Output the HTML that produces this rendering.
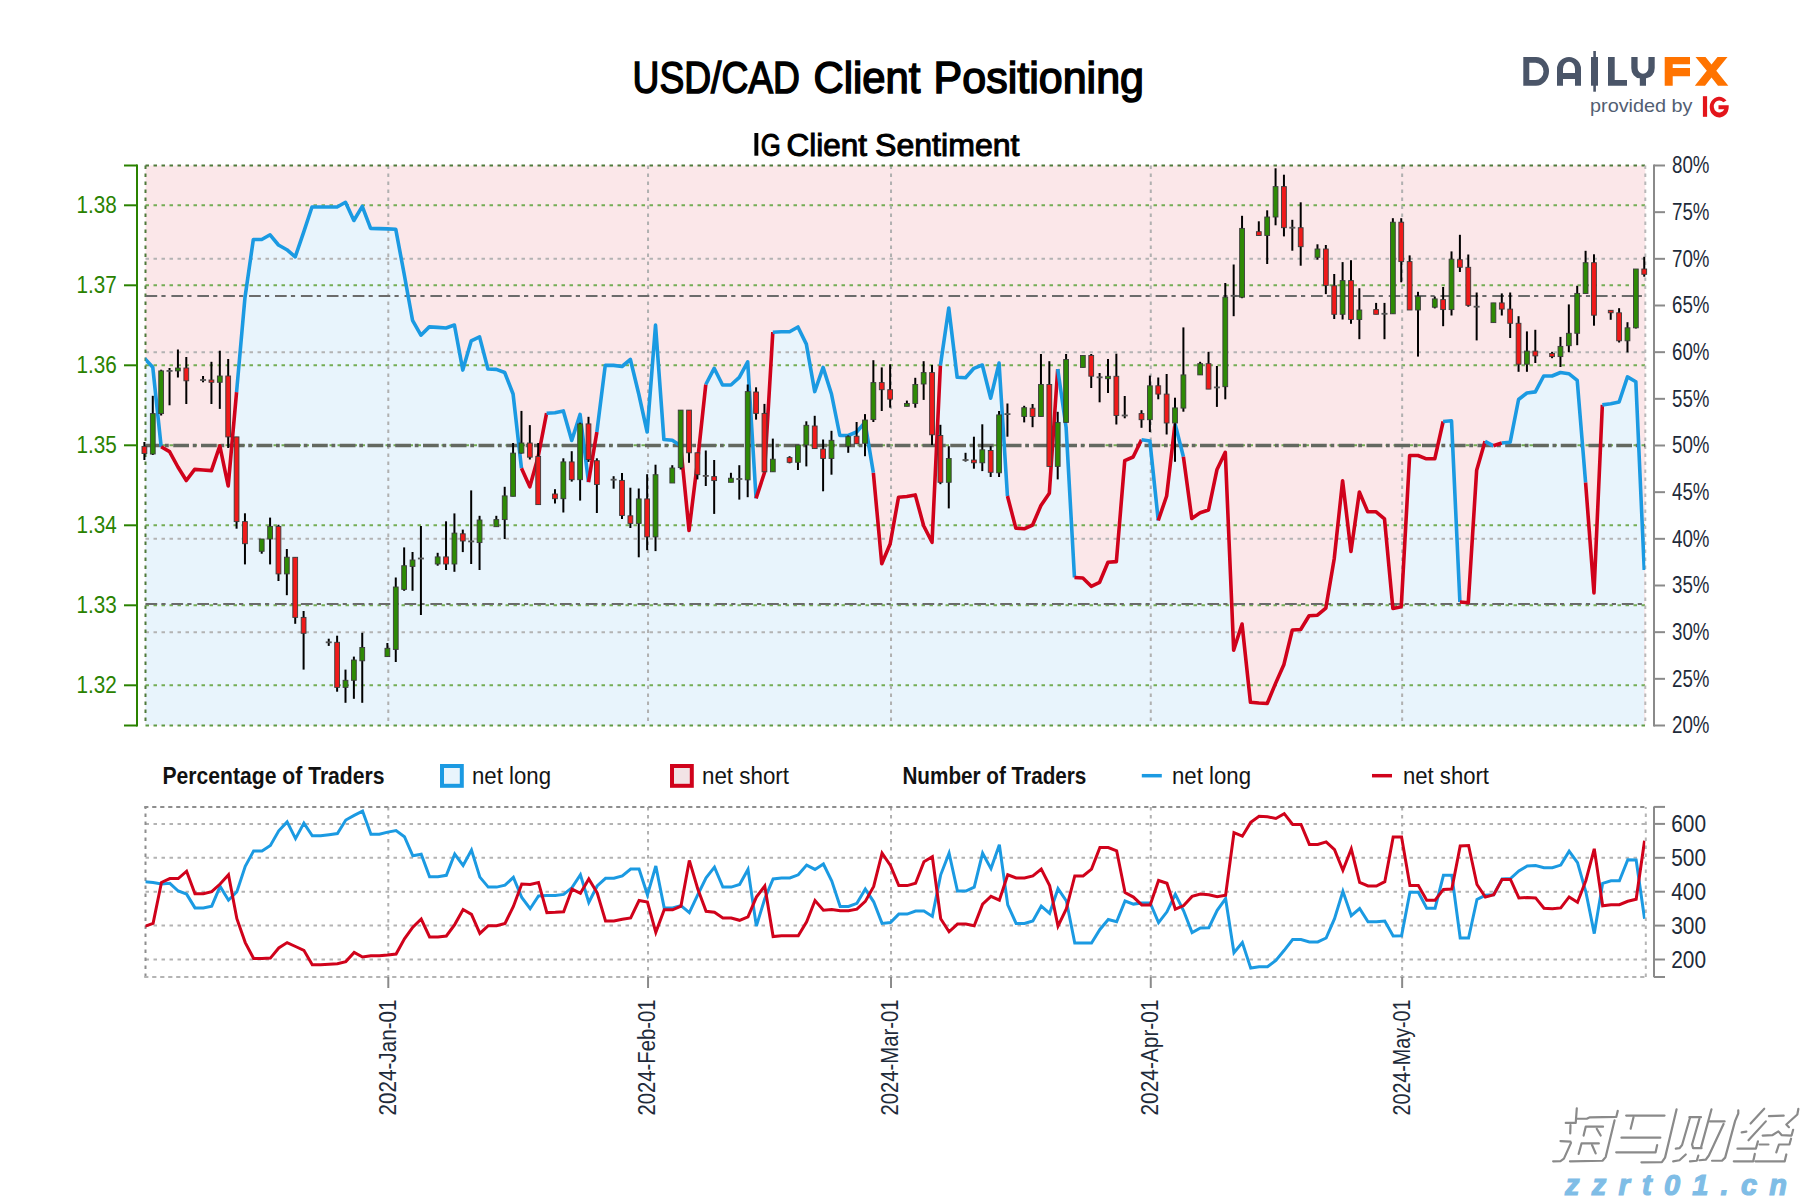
<!DOCTYPE html><html><head><meta charset="utf-8"><style>html,body{margin:0;padding:0;background:#fff;}svg{display:block;}</style></head><body>
<svg width="1800" height="1200" viewBox="0 0 1800 1200" font-family="Liberation Sans, sans-serif">
<rect width="1800" height="1200" fill="#ffffff"/>
<defs><clipPath id="pc"><rect x="145.5" y="165.5" width="1499.8" height="560.0"/></clipPath><clipPath id="bc"><rect x="145.5" y="806.9" width="1499.8" height="170.10000000000002"/></clipPath></defs>
<text x="632.5" y="93" font-size="44" fill="#000" stroke="#000" stroke-width="1.5" textLength="167.5" lengthAdjust="spacingAndGlyphs">USD/CAD</text>
<text x="813.5" y="93" font-size="44" fill="#000" stroke="#000" stroke-width="1.5" textLength="107.0" lengthAdjust="spacingAndGlyphs">Client</text>
<text x="933.5" y="93" font-size="44" fill="#000" stroke="#000" stroke-width="1.5" textLength="210.5" lengthAdjust="spacingAndGlyphs">Positioning</text>
<rect x="754.4" y="133" width="3.9" height="22.7" fill="#000"/>
<text x="760.8" y="155.6" font-size="32" fill="#000" stroke="#000" stroke-width="1.0" textLength="20.0" lengthAdjust="spacingAndGlyphs">G</text>
<text x="786.5" y="155.6" font-size="32" fill="#000" stroke="#000" stroke-width="1.0" textLength="80.5" lengthAdjust="spacingAndGlyphs">Client</text>
<text x="875" y="155.6" font-size="32" fill="#000" stroke="#000" stroke-width="1.0" textLength="144.5" lengthAdjust="spacingAndGlyphs">Sentiment</text>
<rect x="145.5" y="165.5" width="1499.8" height="560.0" fill="#fbe7e9"/>
<g clip-path="url(#pc)"><polygon points="144.40,725.5 144.40,358.30 152.78,367.30 161.16,446.80 169.54,451.60 177.92,467.00 186.30,480.50 194.67,469.40 203.05,470.00 211.43,470.60 219.81,445.80 228.19,486.00 236.57,392.20 244.95,297.70 253.33,239.50 261.71,239.50 270.08,234.80 278.46,245.00 286.84,249.70 295.22,256.90 303.60,232.40 311.98,207.00 320.36,207.00 328.74,207.00 337.12,207.00 345.50,202.30 353.88,220.50 362.25,206.30 370.63,228.40 379.01,228.60 387.39,228.90 395.77,229.30 404.15,274.00 412.53,320.30 420.91,335.20 429.29,326.90 437.66,327.40 446.04,328.00 454.42,325.00 462.80,370.10 471.18,340.90 479.56,336.90 487.94,369.00 496.32,369.40 504.70,372.50 513.08,394.00 521.46,468.30 529.83,486.80 538.21,456.50 546.59,413.20 554.97,412.80 563.35,410.90 571.73,440.50 580.11,414.40 588.49,482.10 596.87,432.00 605.25,365.40 613.62,365.40 622.00,366.50 630.38,359.50 638.76,394.00 647.14,432.00 655.52,325.10 663.90,439.50 672.28,440.30 680.66,445.80 689.03,530.50 697.41,462.80 705.79,384.50 714.17,368.30 722.55,385.00 730.93,385.00 739.31,377.30 747.69,361.90 756.07,498.40 764.45,472.80 772.82,332.20 781.20,331.80 789.58,331.80 797.96,327.00 806.34,344.10 814.72,391.60 823.10,367.40 831.48,394.00 839.86,435.50 848.24,435.50 856.61,432.00 864.99,422.40 873.37,472.80 881.75,563.70 890.13,544.00 898.51,497.20 906.89,496.50 915.27,494.90 923.65,525.70 932.03,542.30 940.40,365.50 948.78,308.00 957.16,377.30 965.54,377.80 973.92,368.30 982.30,365.00 990.68,398.20 999.06,363.10 1007.44,496.00 1015.82,528.10 1024.19,528.80 1032.57,525.00 1040.95,505.50 1049.33,493.20 1057.71,369.00 1066.09,427.20 1074.47,577.50 1082.85,578.00 1091.23,586.30 1099.61,582.30 1107.98,562.20 1116.36,561.60 1124.74,460.60 1133.12,457.00 1141.50,439.70 1149.88,441.00 1158.26,520.50 1166.64,496.00 1175.02,423.80 1183.40,456.80 1191.78,518.50 1200.15,512.70 1208.53,510.00 1216.91,469.80 1225.29,452.30 1233.67,650.10 1242.05,624.00 1250.43,702.30 1258.81,703.00 1267.19,703.50 1275.57,683.40 1283.94,664.40 1292.32,630.00 1300.70,629.50 1309.08,615.70 1317.46,615.20 1325.84,608.10 1334.22,558.80 1342.60,480.80 1350.98,551.50 1359.36,492.00 1367.73,511.80 1376.11,511.80 1384.49,518.90 1392.87,608.40 1401.25,606.70 1409.63,455.50 1418.01,455.50 1426.39,458.80 1434.77,458.80 1443.14,421.50 1451.52,420.80 1459.90,602.00 1468.28,602.70 1476.66,470.20 1485.04,441.30 1493.42,445.80 1501.80,443.00 1510.18,442.20 1518.56,399.50 1526.93,393.00 1535.31,391.90 1543.69,376.00 1552.07,376.00 1560.45,372.50 1568.83,373.70 1577.21,380.30 1585.59,482.60 1593.97,592.90 1602.35,404.90 1610.72,403.80 1619.10,402.00 1627.48,376.90 1635.86,381.80 1644.24,570.00 1644.24,725.5 1645.3,725.5" fill="#e8f4fc"/></g>
<line x1="145.5" y1="258.83" x2="1645.3" y2="258.83" stroke="#b3b3b3" stroke-width="2" stroke-dasharray="3.5 4.5"/>
<line x1="145.5" y1="352.17" x2="1645.3" y2="352.17" stroke="#b3b3b3" stroke-width="2" stroke-dasharray="3.5 4.5"/>
<line x1="145.5" y1="538.83" x2="1645.3" y2="538.83" stroke="#b3b3b3" stroke-width="2" stroke-dasharray="3.5 4.5"/>
<line x1="145.5" y1="632.17" x2="1645.3" y2="632.17" stroke="#b3b3b3" stroke-width="2" stroke-dasharray="3.5 4.5"/>
<line x1="145.5" y1="205.30" x2="1645.3" y2="205.30" stroke="#74ad55" stroke-width="2" stroke-dasharray="3.5 4.5"/>
<line x1="145.5" y1="285.30" x2="1645.3" y2="285.30" stroke="#74ad55" stroke-width="2" stroke-dasharray="3.5 4.5"/>
<line x1="145.5" y1="365.30" x2="1645.3" y2="365.30" stroke="#74ad55" stroke-width="2" stroke-dasharray="3.5 4.5"/>
<line x1="145.5" y1="445.30" x2="1645.3" y2="445.30" stroke="#74ad55" stroke-width="2" stroke-dasharray="3.5 4.5"/>
<line x1="145.5" y1="525.30" x2="1645.3" y2="525.30" stroke="#74ad55" stroke-width="2" stroke-dasharray="3.5 4.5"/>
<line x1="145.5" y1="605.30" x2="1645.3" y2="605.30" stroke="#74ad55" stroke-width="2" stroke-dasharray="3.5 4.5"/>
<line x1="145.5" y1="685.30" x2="1645.3" y2="685.30" stroke="#74ad55" stroke-width="2" stroke-dasharray="3.5 4.5"/>
<line x1="388.29" y1="165.5" x2="388.29" y2="725.5" stroke="#b0b0b0" stroke-width="2" stroke-dasharray="3.5 4.5"/>
<line x1="648.04" y1="165.5" x2="648.04" y2="725.5" stroke="#b0b0b0" stroke-width="2" stroke-dasharray="3.5 4.5"/>
<line x1="891.03" y1="165.5" x2="891.03" y2="725.5" stroke="#b0b0b0" stroke-width="2" stroke-dasharray="3.5 4.5"/>
<line x1="1150.78" y1="165.5" x2="1150.78" y2="725.5" stroke="#b0b0b0" stroke-width="2" stroke-dasharray="3.5 4.5"/>
<line x1="1402.15" y1="165.5" x2="1402.15" y2="725.5" stroke="#b0b0b0" stroke-width="2" stroke-dasharray="3.5 4.5"/>
<line x1="145.5" y1="165.5" x2="1645.3" y2="165.5" stroke="#4f7a3a" stroke-width="2" stroke-dasharray="3.5 4.5"/>
<line x1="145.5" y1="165.5" x2="145.5" y2="725.5" stroke="#4f7a3a" stroke-width="2" stroke-dasharray="3.5 4.5"/>
<line x1="145.5" y1="725.5" x2="1645.3" y2="725.5" stroke="#5f9a45" stroke-width="2" stroke-dasharray="3.5 4.5"/>
<line x1="1645.3" y1="165.5" x2="1645.3" y2="725.5" stroke="#b8b8b8" stroke-width="2" stroke-dasharray="3.5 4.5"/>
<line x1="145.5" y1="296" x2="1645.3" y2="296" stroke="#6b6b6b" stroke-width="2" stroke-dasharray="11.7 4.2 4.2 5.8"/>
<line x1="145.5" y1="604" x2="1645.3" y2="604" stroke="#6b6b6b" stroke-width="2" stroke-dasharray="11.7 4.2 4.2 5.8"/>
<line x1="145.5" y1="445.5" x2="1645.3" y2="445.5" stroke="#636860" stroke-width="3.6" stroke-dasharray="15.75 3.75 3.75 4.5"/>
<g clip-path="url(#pc)" fill="none" stroke-width="3.6" stroke-linejoin="round" stroke-linecap="butt">
<path d="M144.40,358.30 L152.78,367.30 L161.16,446.80" stroke="#1b9ae2"/>
<path d="M161.16,446.80 L169.54,451.60 L177.92,467.00 L186.30,480.50 L194.67,469.40 L203.05,470.00 L211.43,470.60 L219.81,445.80 L228.19,486.00 L236.57,392.20" stroke="#d0021b"/>
<path d="M236.57,392.20 L244.95,297.70 L253.33,239.50 L261.71,239.50 L270.08,234.80 L278.46,245.00 L286.84,249.70 L295.22,256.90 L303.60,232.40 L311.98,207.00 L320.36,207.00 L328.74,207.00 L337.12,207.00 L345.50,202.30 L353.88,220.50 L362.25,206.30 L370.63,228.40 L379.01,228.60 L387.39,228.90 L395.77,229.30 L404.15,274.00 L412.53,320.30 L420.91,335.20 L429.29,326.90 L437.66,327.40 L446.04,328.00 L454.42,325.00 L462.80,370.10 L471.18,340.90 L479.56,336.90 L487.94,369.00 L496.32,369.40 L504.70,372.50 L513.08,394.00 L521.46,468.30" stroke="#1b9ae2"/>
<path d="M521.46,468.30 L529.83,486.80 L538.21,456.50 L546.59,413.20" stroke="#d0021b"/>
<path d="M546.59,413.20 L554.97,412.80 L563.35,410.90 L571.73,440.50 L580.11,414.40 L588.49,482.10" stroke="#1b9ae2"/>
<path d="M588.49,482.10 L596.87,432.00" stroke="#d0021b"/>
<path d="M596.87,432.00 L605.25,365.40 L613.62,365.40 L622.00,366.50 L630.38,359.50 L638.76,394.00 L647.14,432.00 L655.52,325.10 L663.90,439.50 L672.28,440.30 L680.66,445.80" stroke="#1b9ae2"/>
<path d="M680.66,445.80 L689.03,530.50 L697.41,462.80 L705.79,384.50" stroke="#d0021b"/>
<path d="M705.79,384.50 L714.17,368.30 L722.55,385.00 L730.93,385.00 L739.31,377.30 L747.69,361.90 L756.07,498.40" stroke="#1b9ae2"/>
<path d="M756.07,498.40 L764.45,472.80 L772.82,332.20" stroke="#d0021b"/>
<path d="M772.82,332.20 L781.20,331.80 L789.58,331.80 L797.96,327.00 L806.34,344.10 L814.72,391.60 L823.10,367.40 L831.48,394.00 L839.86,435.50 L848.24,435.50 L856.61,432.00 L864.99,422.40 L873.37,472.80" stroke="#1b9ae2"/>
<path d="M873.37,472.80 L881.75,563.70 L890.13,544.00 L898.51,497.20 L906.89,496.50 L915.27,494.90 L923.65,525.70 L932.03,542.30 L940.40,365.50" stroke="#d0021b"/>
<path d="M940.40,365.50 L948.78,308.00 L957.16,377.30 L965.54,377.80 L973.92,368.30 L982.30,365.00 L990.68,398.20 L999.06,363.10 L1007.44,496.00" stroke="#1b9ae2"/>
<path d="M1007.44,496.00 L1015.82,528.10 L1024.19,528.80 L1032.57,525.00 L1040.95,505.50 L1049.33,493.20 L1057.71,369.00" stroke="#d0021b"/>
<path d="M1057.71,369.00 L1066.09,427.20 L1074.47,577.50" stroke="#1b9ae2"/>
<path d="M1074.47,577.50 L1082.85,578.00 L1091.23,586.30 L1099.61,582.30 L1107.98,562.20 L1116.36,561.60 L1124.74,460.60 L1133.12,457.00 L1141.50,439.70" stroke="#d0021b"/>
<path d="M1141.50,439.70 L1149.88,441.00 L1158.26,520.50" stroke="#1b9ae2"/>
<path d="M1158.26,520.50 L1166.64,496.00 L1175.02,423.80" stroke="#d0021b"/>
<path d="M1175.02,423.80 L1183.40,456.80" stroke="#1b9ae2"/>
<path d="M1183.40,456.80 L1191.78,518.50 L1200.15,512.70 L1208.53,510.00 L1216.91,469.80 L1225.29,452.30 L1233.67,650.10 L1242.05,624.00 L1250.43,702.30 L1258.81,703.00 L1267.19,703.50 L1275.57,683.40 L1283.94,664.40 L1292.32,630.00 L1300.70,629.50 L1309.08,615.70 L1317.46,615.20 L1325.84,608.10 L1334.22,558.80 L1342.60,480.80 L1350.98,551.50 L1359.36,492.00 L1367.73,511.80 L1376.11,511.80 L1384.49,518.90 L1392.87,608.40 L1401.25,606.70 L1409.63,455.50 L1418.01,455.50 L1426.39,458.80 L1434.77,458.80 L1443.14,421.50" stroke="#d0021b"/>
<path d="M1443.14,421.50 L1451.52,420.80 L1459.90,602.00" stroke="#1b9ae2"/>
<path d="M1459.90,602.00 L1468.28,602.70 L1476.66,470.20 L1485.04,441.30" stroke="#d0021b"/>
<path d="M1485.04,441.30 L1493.42,445.80" stroke="#1b9ae2"/>
<path d="M1493.42,445.80 L1501.80,443.00" stroke="#d0021b"/>
<path d="M1501.80,443.00 L1510.18,442.20 L1518.56,399.50 L1526.93,393.00 L1535.31,391.90 L1543.69,376.00 L1552.07,376.00 L1560.45,372.50 L1568.83,373.70 L1577.21,380.30 L1585.59,482.60" stroke="#1b9ae2"/>
<path d="M1585.59,482.60 L1593.97,592.90 L1602.35,404.90" stroke="#d0021b"/>
<path d="M1602.35,404.90 L1610.72,403.80 L1619.10,402.00 L1627.48,376.90 L1635.86,381.80 L1644.24,570.00" stroke="#1b9ae2"/>
</g>
<g>
<line x1="144.40" y1="442.0" x2="144.40" y2="460.0" stroke="#000" stroke-width="2"/>
<rect x="142.00" y="446.40" width="4.8" height="7.10" fill="#f01a1a" stroke="#3c3c3c" stroke-width="0.9"/>
<line x1="152.78" y1="395.8" x2="152.78" y2="455.0" stroke="#000" stroke-width="2"/>
<rect x="150.38" y="413.60" width="4.8" height="40.40" fill="#2e8a05" stroke="#3c3c3c" stroke-width="0.9"/>
<line x1="161.16" y1="369.7" x2="161.16" y2="415.5" stroke="#000" stroke-width="2"/>
<rect x="158.76" y="370.90" width="4.8" height="42.70" fill="#2e8a05" stroke="#3c3c3c" stroke-width="0.9"/>
<line x1="169.54" y1="368.0" x2="169.54" y2="405.3" stroke="#000" stroke-width="2"/>
<rect x="166.54" y="370.00" width="6" height="1.8" fill="#555"/>
<line x1="177.92" y1="349.5" x2="177.92" y2="377.5" stroke="#000" stroke-width="2"/>
<rect x="175.52" y="368.00" width="4.8" height="2.90" fill="#2e8a05" stroke="#3c3c3c" stroke-width="0.9"/>
<line x1="186.30" y1="357.0" x2="186.30" y2="404.0" stroke="#000" stroke-width="2"/>
<rect x="183.90" y="368.00" width="4.8" height="12.80" fill="#f01a1a" stroke="#3c3c3c" stroke-width="0.9"/>
<line x1="203.05" y1="376.0" x2="203.05" y2="382.3" stroke="#000" stroke-width="2"/>
<rect x="200.05" y="379.10" width="6" height="1.8" fill="#555"/>
<line x1="211.43" y1="361.8" x2="211.43" y2="404.0" stroke="#000" stroke-width="2"/>
<rect x="209.03" y="380.00" width="4.8" height="2.30" fill="#f01a1a" stroke="#3c3c3c" stroke-width="0.9"/>
<line x1="219.81" y1="350.7" x2="219.81" y2="408.9" stroke="#000" stroke-width="2"/>
<rect x="217.41" y="376.00" width="4.8" height="6.30" fill="#2e8a05" stroke="#3c3c3c" stroke-width="0.9"/>
<line x1="228.19" y1="359.0" x2="228.19" y2="448.0" stroke="#000" stroke-width="2"/>
<rect x="225.79" y="376.00" width="4.8" height="60.90" fill="#f01a1a" stroke="#3c3c3c" stroke-width="0.9"/>
<line x1="236.57" y1="436.9" x2="236.57" y2="528.7" stroke="#000" stroke-width="2"/>
<rect x="234.17" y="436.90" width="4.8" height="84.70" fill="#f01a1a" stroke="#3c3c3c" stroke-width="0.9"/>
<line x1="244.95" y1="513.3" x2="244.95" y2="564.4" stroke="#000" stroke-width="2"/>
<rect x="242.55" y="521.60" width="4.8" height="22.10" fill="#f01a1a" stroke="#3c3c3c" stroke-width="0.9"/>
<line x1="261.71" y1="539.0" x2="261.71" y2="553.7" stroke="#000" stroke-width="2"/>
<rect x="259.31" y="539.00" width="4.8" height="12.30" fill="#2e8a05" stroke="#3c3c3c" stroke-width="0.9"/>
<line x1="270.08" y1="517.6" x2="270.08" y2="564.4" stroke="#000" stroke-width="2"/>
<rect x="267.69" y="526.40" width="4.8" height="12.60" fill="#2e8a05" stroke="#3c3c3c" stroke-width="0.9"/>
<line x1="278.46" y1="524.7" x2="278.46" y2="581.0" stroke="#000" stroke-width="2"/>
<rect x="276.06" y="526.40" width="4.8" height="47.50" fill="#f01a1a" stroke="#3c3c3c" stroke-width="0.9"/>
<line x1="286.84" y1="549.0" x2="286.84" y2="595.2" stroke="#000" stroke-width="2"/>
<rect x="284.44" y="557.20" width="4.8" height="16.70" fill="#2e8a05" stroke="#3c3c3c" stroke-width="0.9"/>
<line x1="295.22" y1="557.3" x2="295.22" y2="623.8" stroke="#000" stroke-width="2"/>
<rect x="292.82" y="557.30" width="4.8" height="60.10" fill="#f01a1a" stroke="#3c3c3c" stroke-width="0.9"/>
<line x1="303.60" y1="611.0" x2="303.60" y2="669.6" stroke="#000" stroke-width="2"/>
<rect x="301.20" y="617.40" width="4.8" height="15.90" fill="#f01a1a" stroke="#3c3c3c" stroke-width="0.9"/>
<line x1="328.74" y1="638.7" x2="328.74" y2="645.9" stroke="#000" stroke-width="2"/>
<rect x="325.74" y="641.40" width="6" height="1.8" fill="#555"/>
<line x1="337.12" y1="635.7" x2="337.12" y2="691.7" stroke="#000" stroke-width="2"/>
<rect x="334.72" y="642.30" width="4.8" height="45.10" fill="#f01a1a" stroke="#3c3c3c" stroke-width="0.9"/>
<line x1="345.50" y1="669.6" x2="345.50" y2="702.8" stroke="#000" stroke-width="2"/>
<rect x="343.10" y="680.30" width="4.8" height="7.10" fill="#2e8a05" stroke="#3c3c3c" stroke-width="0.9"/>
<line x1="353.88" y1="656.6" x2="353.88" y2="698.8" stroke="#000" stroke-width="2"/>
<rect x="351.48" y="660.00" width="4.8" height="20.30" fill="#2e8a05" stroke="#3c3c3c" stroke-width="0.9"/>
<line x1="362.25" y1="632.8" x2="362.25" y2="702.8" stroke="#000" stroke-width="2"/>
<rect x="359.85" y="647.50" width="4.8" height="13.30" fill="#2e8a05" stroke="#3c3c3c" stroke-width="0.9"/>
<line x1="387.39" y1="643.0" x2="387.39" y2="656.6" stroke="#000" stroke-width="2"/>
<rect x="384.99" y="648.30" width="4.8" height="8.30" fill="#2e8a05" stroke="#3c3c3c" stroke-width="0.9"/>
<line x1="395.77" y1="577.5" x2="395.77" y2="662.0" stroke="#000" stroke-width="2"/>
<rect x="393.37" y="587.00" width="4.8" height="62.50" fill="#2e8a05" stroke="#3c3c3c" stroke-width="0.9"/>
<line x1="404.15" y1="547.4" x2="404.15" y2="590.8" stroke="#000" stroke-width="2"/>
<rect x="401.75" y="565.70" width="4.8" height="23.70" fill="#2e8a05" stroke="#3c3c3c" stroke-width="0.9"/>
<line x1="412.53" y1="552.0" x2="412.53" y2="590.8" stroke="#000" stroke-width="2"/>
<rect x="410.13" y="560.00" width="4.8" height="6.40" fill="#2e8a05" stroke="#3c3c3c" stroke-width="0.9"/>
<line x1="420.91" y1="526.0" x2="420.91" y2="615.0" stroke="#000" stroke-width="2"/>
<rect x="417.91" y="557.60" width="6" height="1.8" fill="#555"/>
<line x1="437.66" y1="552.8" x2="437.66" y2="565.7" stroke="#000" stroke-width="2"/>
<rect x="435.26" y="556.90" width="4.8" height="7.10" fill="#2e8a05" stroke="#3c3c3c" stroke-width="0.9"/>
<line x1="446.04" y1="521.3" x2="446.04" y2="570.0" stroke="#000" stroke-width="2"/>
<rect x="443.64" y="556.90" width="4.8" height="7.10" fill="#f01a1a" stroke="#3c3c3c" stroke-width="0.9"/>
<line x1="454.42" y1="513.4" x2="454.42" y2="571.8" stroke="#000" stroke-width="2"/>
<rect x="452.02" y="533.10" width="4.8" height="30.90" fill="#2e8a05" stroke="#3c3c3c" stroke-width="0.9"/>
<line x1="462.80" y1="529.6" x2="462.80" y2="552.1" stroke="#000" stroke-width="2"/>
<rect x="460.40" y="533.80" width="4.8" height="7.20" fill="#f01a1a" stroke="#3c3c3c" stroke-width="0.9"/>
<line x1="471.18" y1="490.4" x2="471.18" y2="564.0" stroke="#000" stroke-width="2"/>
<rect x="468.18" y="540.50" width="6" height="1.8" fill="#555"/>
<line x1="479.56" y1="515.8" x2="479.56" y2="570.0" stroke="#000" stroke-width="2"/>
<rect x="477.16" y="520.00" width="4.8" height="22.60" fill="#2e8a05" stroke="#3c3c3c" stroke-width="0.9"/>
<line x1="496.32" y1="515.8" x2="496.32" y2="526.7" stroke="#000" stroke-width="2"/>
<rect x="493.92" y="519.60" width="4.8" height="7.10" fill="#2e8a05" stroke="#3c3c3c" stroke-width="0.9"/>
<line x1="504.70" y1="486.8" x2="504.70" y2="539.0" stroke="#000" stroke-width="2"/>
<rect x="502.30" y="495.90" width="4.8" height="23.70" fill="#2e8a05" stroke="#3c3c3c" stroke-width="0.9"/>
<line x1="513.08" y1="443.0" x2="513.08" y2="496.3" stroke="#000" stroke-width="2"/>
<rect x="510.68" y="453.10" width="4.8" height="43.20" fill="#2e8a05" stroke="#3c3c3c" stroke-width="0.9"/>
<line x1="521.46" y1="410.9" x2="521.46" y2="453.6" stroke="#000" stroke-width="2"/>
<rect x="519.06" y="443.00" width="4.8" height="10.10" fill="#2e8a05" stroke="#3c3c3c" stroke-width="0.9"/>
<line x1="529.83" y1="425.1" x2="529.83" y2="459.5" stroke="#000" stroke-width="2"/>
<rect x="527.43" y="443.00" width="4.8" height="14.20" fill="#f01a1a" stroke="#3c3c3c" stroke-width="0.9"/>
<line x1="538.21" y1="443.0" x2="538.21" y2="504.6" stroke="#000" stroke-width="2"/>
<rect x="535.81" y="456.40" width="4.8" height="48.20" fill="#f01a1a" stroke="#3c3c3c" stroke-width="0.9"/>
<line x1="554.97" y1="489.2" x2="554.97" y2="503.5" stroke="#000" stroke-width="2"/>
<rect x="552.57" y="494.00" width="4.8" height="4.70" fill="#f01a1a" stroke="#3c3c3c" stroke-width="0.9"/>
<line x1="563.35" y1="458.3" x2="563.35" y2="512.5" stroke="#000" stroke-width="2"/>
<rect x="560.95" y="461.90" width="4.8" height="36.80" fill="#2e8a05" stroke="#3c3c3c" stroke-width="0.9"/>
<line x1="571.73" y1="451.2" x2="571.73" y2="481.6" stroke="#000" stroke-width="2"/>
<rect x="569.33" y="461.90" width="4.8" height="17.80" fill="#f01a1a" stroke="#3c3c3c" stroke-width="0.9"/>
<line x1="580.11" y1="422.7" x2="580.11" y2="500.6" stroke="#000" stroke-width="2"/>
<rect x="577.71" y="423.90" width="4.8" height="55.80" fill="#2e8a05" stroke="#3c3c3c" stroke-width="0.9"/>
<line x1="588.49" y1="416.8" x2="588.49" y2="461.9" stroke="#000" stroke-width="2"/>
<rect x="586.09" y="423.90" width="4.8" height="35.60" fill="#f01a1a" stroke="#3c3c3c" stroke-width="0.9"/>
<line x1="596.87" y1="458.3" x2="596.87" y2="513.0" stroke="#000" stroke-width="2"/>
<rect x="594.47" y="460.70" width="4.8" height="23.80" fill="#f01a1a" stroke="#3c3c3c" stroke-width="0.9"/>
<line x1="613.62" y1="476.2" x2="613.62" y2="488.7" stroke="#000" stroke-width="2"/>
<rect x="610.62" y="478.80" width="6" height="1.8" fill="#555"/>
<line x1="622.00" y1="473.0" x2="622.00" y2="519.0" stroke="#000" stroke-width="2"/>
<rect x="619.60" y="480.40" width="4.8" height="35.10" fill="#f01a1a" stroke="#3c3c3c" stroke-width="0.9"/>
<line x1="630.38" y1="487.7" x2="630.38" y2="528.0" stroke="#000" stroke-width="2"/>
<rect x="627.98" y="515.80" width="4.8" height="7.60" fill="#f01a1a" stroke="#3c3c3c" stroke-width="0.9"/>
<line x1="638.76" y1="488.5" x2="638.76" y2="557.3" stroke="#000" stroke-width="2"/>
<rect x="636.36" y="498.90" width="4.8" height="24.50" fill="#2e8a05" stroke="#3c3c3c" stroke-width="0.9"/>
<line x1="647.14" y1="474.2" x2="647.14" y2="550.2" stroke="#000" stroke-width="2"/>
<rect x="644.74" y="498.90" width="4.8" height="38.00" fill="#f01a1a" stroke="#3c3c3c" stroke-width="0.9"/>
<line x1="655.52" y1="464.7" x2="655.52" y2="551.1" stroke="#000" stroke-width="2"/>
<rect x="653.12" y="474.70" width="4.8" height="62.20" fill="#2e8a05" stroke="#3c3c3c" stroke-width="0.9"/>
<line x1="672.28" y1="465.2" x2="672.28" y2="483.0" stroke="#000" stroke-width="2"/>
<rect x="669.88" y="468.00" width="4.8" height="15.00" fill="#2e8a05" stroke="#3c3c3c" stroke-width="0.9"/>
<line x1="680.66" y1="410.1" x2="680.66" y2="469.5" stroke="#000" stroke-width="2"/>
<rect x="678.26" y="410.10" width="4.8" height="57.50" fill="#2e8a05" stroke="#3c3c3c" stroke-width="0.9"/>
<line x1="689.03" y1="410.1" x2="689.03" y2="462.8" stroke="#000" stroke-width="2"/>
<rect x="686.63" y="410.10" width="4.8" height="42.70" fill="#f01a1a" stroke="#3c3c3c" stroke-width="0.9"/>
<line x1="697.41" y1="452.8" x2="697.41" y2="479.4" stroke="#000" stroke-width="2"/>
<rect x="695.01" y="452.80" width="4.8" height="21.90" fill="#f01a1a" stroke="#3c3c3c" stroke-width="0.9"/>
<line x1="705.79" y1="450.5" x2="705.79" y2="486.0" stroke="#000" stroke-width="2"/>
<rect x="702.79" y="475.00" width="6" height="1.8" fill="#555"/>
<line x1="714.17" y1="460.0" x2="714.17" y2="513.9" stroke="#000" stroke-width="2"/>
<rect x="711.77" y="476.60" width="4.8" height="4.00" fill="#f01a1a" stroke="#3c3c3c" stroke-width="0.9"/>
<line x1="730.93" y1="472.8" x2="730.93" y2="482.3" stroke="#000" stroke-width="2"/>
<rect x="728.53" y="478.20" width="4.8" height="4.10" fill="#2e8a05" stroke="#3c3c3c" stroke-width="0.9"/>
<line x1="739.31" y1="465.2" x2="739.31" y2="499.6" stroke="#000" stroke-width="2"/>
<rect x="736.31" y="478.10" width="6" height="1.8" fill="#555"/>
<line x1="747.69" y1="384.5" x2="747.69" y2="497.2" stroke="#000" stroke-width="2"/>
<rect x="745.29" y="391.60" width="4.8" height="88.30" fill="#2e8a05" stroke="#3c3c3c" stroke-width="0.9"/>
<line x1="756.07" y1="387.3" x2="756.07" y2="419.6" stroke="#000" stroke-width="2"/>
<rect x="753.67" y="392.00" width="4.8" height="21.40" fill="#f01a1a" stroke="#3c3c3c" stroke-width="0.9"/>
<line x1="764.45" y1="403.9" x2="764.45" y2="471.8" stroke="#000" stroke-width="2"/>
<rect x="762.05" y="413.40" width="4.8" height="58.40" fill="#f01a1a" stroke="#3c3c3c" stroke-width="0.9"/>
<line x1="772.82" y1="438.6" x2="772.82" y2="471.8" stroke="#000" stroke-width="2"/>
<rect x="770.42" y="459.20" width="4.8" height="12.60" fill="#2e8a05" stroke="#3c3c3c" stroke-width="0.9"/>
<line x1="789.58" y1="456.2" x2="789.58" y2="463.3" stroke="#000" stroke-width="2"/>
<rect x="787.18" y="457.60" width="4.8" height="4.70" fill="#f01a1a" stroke="#3c3c3c" stroke-width="0.9"/>
<line x1="797.96" y1="445.0" x2="797.96" y2="470.0" stroke="#000" stroke-width="2"/>
<rect x="795.56" y="445.00" width="4.8" height="17.30" fill="#2e8a05" stroke="#3c3c3c" stroke-width="0.9"/>
<line x1="806.34" y1="421.3" x2="806.34" y2="466.4" stroke="#000" stroke-width="2"/>
<rect x="803.94" y="425.30" width="4.8" height="19.70" fill="#2e8a05" stroke="#3c3c3c" stroke-width="0.9"/>
<line x1="814.72" y1="415.8" x2="814.72" y2="448.6" stroke="#000" stroke-width="2"/>
<rect x="812.32" y="426.00" width="4.8" height="22.60" fill="#f01a1a" stroke="#3c3c3c" stroke-width="0.9"/>
<line x1="823.10" y1="439.5" x2="823.10" y2="491.3" stroke="#000" stroke-width="2"/>
<rect x="820.70" y="449.00" width="4.8" height="9.50" fill="#f01a1a" stroke="#3c3c3c" stroke-width="0.9"/>
<line x1="831.48" y1="430.8" x2="831.48" y2="474.7" stroke="#000" stroke-width="2"/>
<rect x="829.08" y="440.30" width="4.8" height="18.20" fill="#2e8a05" stroke="#3c3c3c" stroke-width="0.9"/>
<line x1="848.24" y1="435.5" x2="848.24" y2="452.8" stroke="#000" stroke-width="2"/>
<rect x="845.84" y="436.70" width="4.8" height="9.50" fill="#2e8a05" stroke="#3c3c3c" stroke-width="0.9"/>
<line x1="856.61" y1="422.0" x2="856.61" y2="443.8" stroke="#000" stroke-width="2"/>
<rect x="854.21" y="436.20" width="4.8" height="7.60" fill="#f01a1a" stroke="#3c3c3c" stroke-width="0.9"/>
<line x1="864.99" y1="414.1" x2="864.99" y2="456.2" stroke="#000" stroke-width="2"/>
<rect x="862.59" y="420.00" width="4.8" height="23.30" fill="#2e8a05" stroke="#3c3c3c" stroke-width="0.9"/>
<line x1="873.37" y1="360.2" x2="873.37" y2="422.0" stroke="#000" stroke-width="2"/>
<rect x="870.97" y="382.60" width="4.8" height="37.00" fill="#2e8a05" stroke="#3c3c3c" stroke-width="0.9"/>
<line x1="881.75" y1="367.4" x2="881.75" y2="411.0" stroke="#000" stroke-width="2"/>
<rect x="879.35" y="382.60" width="4.8" height="7.10" fill="#f01a1a" stroke="#3c3c3c" stroke-width="0.9"/>
<line x1="890.13" y1="364.3" x2="890.13" y2="407.7" stroke="#000" stroke-width="2"/>
<rect x="887.73" y="389.70" width="4.8" height="9.50" fill="#f01a1a" stroke="#3c3c3c" stroke-width="0.9"/>
<line x1="906.89" y1="400.6" x2="906.89" y2="406.3" stroke="#000" stroke-width="2"/>
<rect x="904.49" y="403.50" width="4.8" height="2.80" fill="#2e8a05" stroke="#3c3c3c" stroke-width="0.9"/>
<line x1="915.27" y1="377.8" x2="915.27" y2="407.7" stroke="#000" stroke-width="2"/>
<rect x="912.87" y="384.50" width="4.8" height="19.00" fill="#2e8a05" stroke="#3c3c3c" stroke-width="0.9"/>
<line x1="923.65" y1="361.2" x2="923.65" y2="399.9" stroke="#000" stroke-width="2"/>
<rect x="921.25" y="372.60" width="4.8" height="11.40" fill="#2e8a05" stroke="#3c3c3c" stroke-width="0.9"/>
<line x1="932.03" y1="365.0" x2="932.03" y2="445.0" stroke="#000" stroke-width="2"/>
<rect x="929.63" y="372.60" width="4.8" height="62.20" fill="#f01a1a" stroke="#3c3c3c" stroke-width="0.9"/>
<line x1="940.40" y1="424.8" x2="940.40" y2="484.2" stroke="#000" stroke-width="2"/>
<rect x="938.00" y="435.50" width="4.8" height="46.80" fill="#f01a1a" stroke="#3c3c3c" stroke-width="0.9"/>
<line x1="948.78" y1="446.2" x2="948.78" y2="508.4" stroke="#000" stroke-width="2"/>
<rect x="946.38" y="458.50" width="4.8" height="23.80" fill="#2e8a05" stroke="#3c3c3c" stroke-width="0.9"/>
<line x1="965.54" y1="452.8" x2="965.54" y2="461.6" stroke="#000" stroke-width="2"/>
<rect x="962.54" y="459.10" width="6" height="1.8" fill="#555"/>
<line x1="973.92" y1="436.7" x2="973.92" y2="468.7" stroke="#000" stroke-width="2"/>
<rect x="971.52" y="460.00" width="4.8" height="2.80" fill="#f01a1a" stroke="#3c3c3c" stroke-width="0.9"/>
<line x1="982.30" y1="424.3" x2="982.30" y2="471.1" stroke="#000" stroke-width="2"/>
<rect x="979.90" y="449.80" width="4.8" height="13.00" fill="#2e8a05" stroke="#3c3c3c" stroke-width="0.9"/>
<line x1="990.68" y1="446.2" x2="990.68" y2="477.0" stroke="#000" stroke-width="2"/>
<rect x="988.28" y="450.50" width="4.8" height="21.80" fill="#f01a1a" stroke="#3c3c3c" stroke-width="0.9"/>
<line x1="999.06" y1="411.0" x2="999.06" y2="477.0" stroke="#000" stroke-width="2"/>
<rect x="996.66" y="414.90" width="4.8" height="57.90" fill="#2e8a05" stroke="#3c3c3c" stroke-width="0.9"/>
<line x1="1007.44" y1="403.5" x2="1007.44" y2="436.7" stroke="#000" stroke-width="2"/>
<rect x="1004.44" y="413.20" width="6" height="1.8" fill="#555"/>
<line x1="1024.19" y1="405.8" x2="1024.19" y2="422.4" stroke="#000" stroke-width="2"/>
<rect x="1021.79" y="407.70" width="4.8" height="8.80" fill="#2e8a05" stroke="#3c3c3c" stroke-width="0.9"/>
<line x1="1032.57" y1="404.0" x2="1032.57" y2="427.2" stroke="#000" stroke-width="2"/>
<rect x="1030.17" y="408.20" width="4.8" height="8.30" fill="#f01a1a" stroke="#3c3c3c" stroke-width="0.9"/>
<line x1="1040.95" y1="354.0" x2="1040.95" y2="416.5" stroke="#000" stroke-width="2"/>
<rect x="1038.55" y="384.50" width="4.8" height="32.00" fill="#2e8a05" stroke="#3c3c3c" stroke-width="0.9"/>
<line x1="1049.33" y1="361.2" x2="1049.33" y2="466.4" stroke="#000" stroke-width="2"/>
<rect x="1046.93" y="384.50" width="4.8" height="81.90" fill="#f01a1a" stroke="#3c3c3c" stroke-width="0.9"/>
<line x1="1057.71" y1="411.8" x2="1057.71" y2="479.4" stroke="#000" stroke-width="2"/>
<rect x="1055.31" y="422.40" width="4.8" height="44.00" fill="#2e8a05" stroke="#3c3c3c" stroke-width="0.9"/>
<line x1="1066.09" y1="354.0" x2="1066.09" y2="422.4" stroke="#000" stroke-width="2"/>
<rect x="1063.69" y="359.50" width="4.8" height="62.90" fill="#2e8a05" stroke="#3c3c3c" stroke-width="0.9"/>
<line x1="1082.85" y1="355.5" x2="1082.85" y2="367.4" stroke="#000" stroke-width="2"/>
<rect x="1080.45" y="355.50" width="4.8" height="11.90" fill="#2e8a05" stroke="#3c3c3c" stroke-width="0.9"/>
<line x1="1091.23" y1="354.0" x2="1091.23" y2="388.0" stroke="#000" stroke-width="2"/>
<rect x="1088.83" y="355.50" width="4.8" height="20.70" fill="#f01a1a" stroke="#3c3c3c" stroke-width="0.9"/>
<line x1="1099.61" y1="373.0" x2="1099.61" y2="402.3" stroke="#000" stroke-width="2"/>
<rect x="1096.61" y="376.40" width="6" height="1.8" fill="#555"/>
<line x1="1107.98" y1="359.0" x2="1107.98" y2="393.0" stroke="#000" stroke-width="2"/>
<rect x="1105.58" y="376.30" width="4.8" height="2.40" fill="#2e8a05" stroke="#3c3c3c" stroke-width="0.9"/>
<line x1="1116.36" y1="353.7" x2="1116.36" y2="424.5" stroke="#000" stroke-width="2"/>
<rect x="1113.96" y="376.30" width="4.8" height="39.20" fill="#f01a1a" stroke="#3c3c3c" stroke-width="0.9"/>
<line x1="1124.74" y1="396.0" x2="1124.74" y2="418.3" stroke="#000" stroke-width="2"/>
<rect x="1121.74" y="414.60" width="6" height="1.8" fill="#555"/>
<line x1="1141.50" y1="410.2" x2="1141.50" y2="427.8" stroke="#000" stroke-width="2"/>
<rect x="1139.10" y="413.60" width="4.8" height="6.10" fill="#f01a1a" stroke="#3c3c3c" stroke-width="0.9"/>
<line x1="1149.88" y1="375.6" x2="1149.88" y2="432.0" stroke="#000" stroke-width="2"/>
<rect x="1147.48" y="385.80" width="4.8" height="33.90" fill="#2e8a05" stroke="#3c3c3c" stroke-width="0.9"/>
<line x1="1158.26" y1="377.5" x2="1158.26" y2="399.3" stroke="#000" stroke-width="2"/>
<rect x="1155.86" y="385.80" width="4.8" height="8.30" fill="#f01a1a" stroke="#3c3c3c" stroke-width="0.9"/>
<line x1="1166.64" y1="374.0" x2="1166.64" y2="434.5" stroke="#000" stroke-width="2"/>
<rect x="1164.24" y="394.10" width="4.8" height="28.90" fill="#f01a1a" stroke="#3c3c3c" stroke-width="0.9"/>
<line x1="1175.02" y1="397.7" x2="1175.02" y2="461.8" stroke="#000" stroke-width="2"/>
<rect x="1172.62" y="407.90" width="4.8" height="15.10" fill="#2e8a05" stroke="#3c3c3c" stroke-width="0.9"/>
<line x1="1183.40" y1="327.4" x2="1183.40" y2="411.7" stroke="#000" stroke-width="2"/>
<rect x="1181.00" y="374.90" width="4.8" height="33.20" fill="#2e8a05" stroke="#3c3c3c" stroke-width="0.9"/>
<line x1="1200.15" y1="361.8" x2="1200.15" y2="374.9" stroke="#000" stroke-width="2"/>
<rect x="1197.75" y="363.70" width="4.8" height="11.20" fill="#2e8a05" stroke="#3c3c3c" stroke-width="0.9"/>
<line x1="1208.53" y1="351.8" x2="1208.53" y2="389.1" stroke="#000" stroke-width="2"/>
<rect x="1206.13" y="363.70" width="4.8" height="25.40" fill="#f01a1a" stroke="#3c3c3c" stroke-width="0.9"/>
<line x1="1216.91" y1="366.0" x2="1216.91" y2="406.9" stroke="#000" stroke-width="2"/>
<rect x="1213.91" y="386.50" width="6" height="1.8" fill="#555"/>
<line x1="1225.29" y1="283.0" x2="1225.29" y2="399.3" stroke="#000" stroke-width="2"/>
<rect x="1222.89" y="297.20" width="4.8" height="89.50" fill="#2e8a05" stroke="#3c3c3c" stroke-width="0.9"/>
<line x1="1233.67" y1="264.5" x2="1233.67" y2="316.2" stroke="#000" stroke-width="2"/>
<rect x="1230.67" y="294.90" width="6" height="1.8" fill="#555"/>
<line x1="1242.05" y1="215.8" x2="1242.05" y2="298.2" stroke="#000" stroke-width="2"/>
<rect x="1239.65" y="228.40" width="4.8" height="68.80" fill="#2e8a05" stroke="#3c3c3c" stroke-width="0.9"/>
<line x1="1258.81" y1="221.3" x2="1258.81" y2="235.5" stroke="#000" stroke-width="2"/>
<rect x="1256.41" y="231.70" width="4.8" height="3.80" fill="#f01a1a" stroke="#3c3c3c" stroke-width="0.9"/>
<line x1="1267.19" y1="210.3" x2="1267.19" y2="264.0" stroke="#000" stroke-width="2"/>
<rect x="1264.79" y="217.00" width="4.8" height="18.50" fill="#2e8a05" stroke="#3c3c3c" stroke-width="0.9"/>
<line x1="1275.57" y1="168.3" x2="1275.57" y2="225.3" stroke="#000" stroke-width="2"/>
<rect x="1273.16" y="186.60" width="4.8" height="30.40" fill="#2e8a05" stroke="#3c3c3c" stroke-width="0.9"/>
<line x1="1283.94" y1="174.7" x2="1283.94" y2="236.4" stroke="#000" stroke-width="2"/>
<rect x="1281.54" y="186.60" width="4.8" height="41.10" fill="#f01a1a" stroke="#3c3c3c" stroke-width="0.9"/>
<line x1="1292.32" y1="219.8" x2="1292.32" y2="250.7" stroke="#000" stroke-width="2"/>
<rect x="1289.32" y="226.80" width="6" height="1.8" fill="#555"/>
<line x1="1300.70" y1="202.3" x2="1300.70" y2="265.7" stroke="#000" stroke-width="2"/>
<rect x="1298.30" y="227.70" width="4.8" height="19.00" fill="#f01a1a" stroke="#3c3c3c" stroke-width="0.9"/>
<line x1="1317.46" y1="244.3" x2="1317.46" y2="259.7" stroke="#000" stroke-width="2"/>
<rect x="1315.06" y="249.00" width="4.8" height="8.30" fill="#2e8a05" stroke="#3c3c3c" stroke-width="0.9"/>
<line x1="1325.84" y1="245.0" x2="1325.84" y2="294.1" stroke="#000" stroke-width="2"/>
<rect x="1323.44" y="249.00" width="4.8" height="36.40" fill="#f01a1a" stroke="#3c3c3c" stroke-width="0.9"/>
<line x1="1334.22" y1="274.0" x2="1334.22" y2="319.0" stroke="#000" stroke-width="2"/>
<rect x="1331.82" y="285.80" width="4.8" height="28.50" fill="#f01a1a" stroke="#3c3c3c" stroke-width="0.9"/>
<line x1="1342.60" y1="262.1" x2="1342.60" y2="319.5" stroke="#000" stroke-width="2"/>
<rect x="1340.20" y="280.60" width="4.8" height="33.70" fill="#2e8a05" stroke="#3c3c3c" stroke-width="0.9"/>
<line x1="1350.98" y1="260.2" x2="1350.98" y2="323.8" stroke="#000" stroke-width="2"/>
<rect x="1348.58" y="280.60" width="4.8" height="38.90" fill="#f01a1a" stroke="#3c3c3c" stroke-width="0.9"/>
<line x1="1359.36" y1="288.2" x2="1359.36" y2="339.2" stroke="#000" stroke-width="2"/>
<rect x="1356.95" y="310.00" width="4.8" height="9.50" fill="#2e8a05" stroke="#3c3c3c" stroke-width="0.9"/>
<line x1="1376.11" y1="302.9" x2="1376.11" y2="314.3" stroke="#000" stroke-width="2"/>
<rect x="1373.71" y="309.60" width="4.8" height="4.70" fill="#f01a1a" stroke="#3c3c3c" stroke-width="0.9"/>
<line x1="1384.49" y1="302.9" x2="1384.49" y2="339.2" stroke="#000" stroke-width="2"/>
<rect x="1381.49" y="312.90" width="6" height="1.8" fill="#555"/>
<line x1="1392.87" y1="218.2" x2="1392.87" y2="313.8" stroke="#000" stroke-width="2"/>
<rect x="1390.47" y="222.20" width="4.8" height="91.60" fill="#2e8a05" stroke="#3c3c3c" stroke-width="0.9"/>
<line x1="1401.25" y1="218.2" x2="1401.25" y2="282.3" stroke="#000" stroke-width="2"/>
<rect x="1398.85" y="222.20" width="4.8" height="39.40" fill="#f01a1a" stroke="#3c3c3c" stroke-width="0.9"/>
<line x1="1409.63" y1="255.4" x2="1409.63" y2="310.0" stroke="#000" stroke-width="2"/>
<rect x="1407.23" y="261.60" width="4.8" height="48.40" fill="#f01a1a" stroke="#3c3c3c" stroke-width="0.9"/>
<line x1="1418.01" y1="291.8" x2="1418.01" y2="356.6" stroke="#000" stroke-width="2"/>
<rect x="1415.61" y="296.50" width="4.8" height="13.50" fill="#2e8a05" stroke="#3c3c3c" stroke-width="0.9"/>
<line x1="1434.77" y1="296.5" x2="1434.77" y2="308.4" stroke="#000" stroke-width="2"/>
<rect x="1432.37" y="298.90" width="4.8" height="8.30" fill="#2e8a05" stroke="#3c3c3c" stroke-width="0.9"/>
<line x1="1443.14" y1="287.0" x2="1443.14" y2="326.2" stroke="#000" stroke-width="2"/>
<rect x="1440.74" y="299.60" width="4.8" height="10.00" fill="#f01a1a" stroke="#3c3c3c" stroke-width="0.9"/>
<line x1="1451.52" y1="251.4" x2="1451.52" y2="315.5" stroke="#000" stroke-width="2"/>
<rect x="1449.12" y="259.20" width="4.8" height="50.40" fill="#2e8a05" stroke="#3c3c3c" stroke-width="0.9"/>
<line x1="1459.90" y1="234.8" x2="1459.90" y2="272.0" stroke="#000" stroke-width="2"/>
<rect x="1457.50" y="259.70" width="4.8" height="7.60" fill="#f01a1a" stroke="#3c3c3c" stroke-width="0.9"/>
<line x1="1468.28" y1="254.5" x2="1468.28" y2="306.7" stroke="#000" stroke-width="2"/>
<rect x="1465.88" y="267.30" width="4.8" height="38.00" fill="#f01a1a" stroke="#3c3c3c" stroke-width="0.9"/>
<line x1="1476.66" y1="292.5" x2="1476.66" y2="340.4" stroke="#000" stroke-width="2"/>
<rect x="1473.66" y="305.80" width="6" height="1.8" fill="#555"/>
<line x1="1493.42" y1="302.9" x2="1493.42" y2="322.6" stroke="#000" stroke-width="2"/>
<rect x="1491.02" y="302.90" width="4.8" height="19.70" fill="#2e8a05" stroke="#3c3c3c" stroke-width="0.9"/>
<line x1="1501.80" y1="293.4" x2="1501.80" y2="315.5" stroke="#000" stroke-width="2"/>
<rect x="1499.40" y="302.90" width="4.8" height="6.20" fill="#f01a1a" stroke="#3c3c3c" stroke-width="0.9"/>
<line x1="1510.18" y1="292.5" x2="1510.18" y2="338.0" stroke="#000" stroke-width="2"/>
<rect x="1507.78" y="309.10" width="4.8" height="14.20" fill="#f01a1a" stroke="#3c3c3c" stroke-width="0.9"/>
<line x1="1518.56" y1="316.2" x2="1518.56" y2="371.8" stroke="#000" stroke-width="2"/>
<rect x="1516.16" y="323.30" width="4.8" height="40.90" fill="#f01a1a" stroke="#3c3c3c" stroke-width="0.9"/>
<line x1="1526.93" y1="331.4" x2="1526.93" y2="371.8" stroke="#000" stroke-width="2"/>
<rect x="1524.53" y="351.10" width="4.8" height="13.10" fill="#2e8a05" stroke="#3c3c3c" stroke-width="0.9"/>
<line x1="1535.31" y1="329.8" x2="1535.31" y2="363.0" stroke="#000" stroke-width="2"/>
<rect x="1532.91" y="351.10" width="4.8" height="4.80" fill="#f01a1a" stroke="#3c3c3c" stroke-width="0.9"/>
<line x1="1552.07" y1="351.8" x2="1552.07" y2="358.2" stroke="#000" stroke-width="2"/>
<rect x="1549.67" y="353.50" width="4.8" height="3.10" fill="#f01a1a" stroke="#3c3c3c" stroke-width="0.9"/>
<line x1="1560.45" y1="336.9" x2="1560.45" y2="367.0" stroke="#000" stroke-width="2"/>
<rect x="1558.05" y="346.40" width="4.8" height="10.20" fill="#2e8a05" stroke="#3c3c3c" stroke-width="0.9"/>
<line x1="1568.83" y1="304.4" x2="1568.83" y2="352.3" stroke="#000" stroke-width="2"/>
<rect x="1566.43" y="333.30" width="4.8" height="12.40" fill="#2e8a05" stroke="#3c3c3c" stroke-width="0.9"/>
<line x1="1577.21" y1="285.8" x2="1577.21" y2="345.2" stroke="#000" stroke-width="2"/>
<rect x="1574.81" y="293.40" width="4.8" height="39.90" fill="#2e8a05" stroke="#3c3c3c" stroke-width="0.9"/>
<line x1="1585.59" y1="250.8" x2="1585.59" y2="293.5" stroke="#000" stroke-width="2"/>
<rect x="1583.19" y="262.70" width="4.8" height="30.80" fill="#2e8a05" stroke="#3c3c3c" stroke-width="0.9"/>
<line x1="1593.97" y1="254.3" x2="1593.97" y2="325.7" stroke="#000" stroke-width="2"/>
<rect x="1591.57" y="262.70" width="4.8" height="52.50" fill="#f01a1a" stroke="#3c3c3c" stroke-width="0.9"/>
<line x1="1610.72" y1="310.3" x2="1610.72" y2="319.8" stroke="#000" stroke-width="2"/>
<rect x="1608.32" y="310.30" width="4.8" height="2.50" fill="#f01a1a" stroke="#3c3c3c" stroke-width="0.9"/>
<line x1="1619.10" y1="308.2" x2="1619.10" y2="342.5" stroke="#000" stroke-width="2"/>
<rect x="1616.70" y="312.80" width="4.8" height="28.00" fill="#f01a1a" stroke="#3c3c3c" stroke-width="0.9"/>
<line x1="1627.48" y1="322.2" x2="1627.48" y2="352.4" stroke="#000" stroke-width="2"/>
<rect x="1625.08" y="327.80" width="4.8" height="13.00" fill="#2e8a05" stroke="#3c3c3c" stroke-width="0.9"/>
<line x1="1635.86" y1="269.0" x2="1635.86" y2="328.5" stroke="#000" stroke-width="2"/>
<rect x="1633.46" y="269.00" width="4.8" height="58.80" fill="#2e8a05" stroke="#3c3c3c" stroke-width="0.9"/>
<line x1="1644.24" y1="256.8" x2="1644.24" y2="276.7" stroke="#000" stroke-width="2"/>
<rect x="1641.84" y="269.00" width="4.8" height="5.30" fill="#f01a1a" stroke="#3c3c3c" stroke-width="0.9"/>
</g>
<line x1="137" y1="164.5" x2="137" y2="726.5" stroke="#2a8200" stroke-width="2"/>
<line x1="124" y1="165.50" x2="137" y2="165.50" stroke="#2a8200" stroke-width="2"/>
<line x1="124" y1="205.30" x2="137" y2="205.30" stroke="#2a8200" stroke-width="2"/>
<line x1="124" y1="285.30" x2="137" y2="285.30" stroke="#2a8200" stroke-width="2"/>
<line x1="124" y1="365.30" x2="137" y2="365.30" stroke="#2a8200" stroke-width="2"/>
<line x1="124" y1="445.30" x2="137" y2="445.30" stroke="#2a8200" stroke-width="2"/>
<line x1="124" y1="525.30" x2="137" y2="525.30" stroke="#2a8200" stroke-width="2"/>
<line x1="124" y1="605.30" x2="137" y2="605.30" stroke="#2a8200" stroke-width="2"/>
<line x1="124" y1="685.30" x2="137" y2="685.30" stroke="#2a8200" stroke-width="2"/>
<line x1="124" y1="725.50" x2="137" y2="725.50" stroke="#2a8200" stroke-width="2"/>
<text x="116.8" y="212.90" font-size="23.5" fill="#2a8200" text-anchor="end" textLength="40.3" lengthAdjust="spacingAndGlyphs">1.38</text>
<text x="116.8" y="292.90" font-size="23.5" fill="#2a8200" text-anchor="end" textLength="40.3" lengthAdjust="spacingAndGlyphs">1.37</text>
<text x="116.8" y="372.90" font-size="23.5" fill="#2a8200" text-anchor="end" textLength="40.3" lengthAdjust="spacingAndGlyphs">1.36</text>
<text x="116.8" y="452.90" font-size="23.5" fill="#2a8200" text-anchor="end" textLength="40.3" lengthAdjust="spacingAndGlyphs">1.35</text>
<text x="116.8" y="532.90" font-size="23.5" fill="#2a8200" text-anchor="end" textLength="40.3" lengthAdjust="spacingAndGlyphs">1.34</text>
<text x="116.8" y="612.90" font-size="23.5" fill="#2a8200" text-anchor="end" textLength="40.3" lengthAdjust="spacingAndGlyphs">1.33</text>
<text x="116.8" y="692.90" font-size="23.5" fill="#2a8200" text-anchor="end" textLength="40.3" lengthAdjust="spacingAndGlyphs">1.32</text>
<line x1="1654" y1="164.5" x2="1654" y2="726.5" stroke="#8a8a8a" stroke-width="2"/>
<line x1="1654" y1="165.50" x2="1665" y2="165.50" stroke="#8a8a8a" stroke-width="2"/>
<text x="1672" y="173.30" font-size="23.5" fill="#1e2b3a" textLength="37.5" lengthAdjust="spacingAndGlyphs">80%</text>
<line x1="1654" y1="212.17" x2="1665" y2="212.17" stroke="#8a8a8a" stroke-width="2"/>
<text x="1672" y="219.97" font-size="23.5" fill="#1e2b3a" textLength="37.5" lengthAdjust="spacingAndGlyphs">75%</text>
<line x1="1654" y1="258.83" x2="1665" y2="258.83" stroke="#8a8a8a" stroke-width="2"/>
<text x="1672" y="266.63" font-size="23.5" fill="#1e2b3a" textLength="37.5" lengthAdjust="spacingAndGlyphs">70%</text>
<line x1="1654" y1="305.50" x2="1665" y2="305.50" stroke="#8a8a8a" stroke-width="2"/>
<text x="1672" y="313.30" font-size="23.5" fill="#1e2b3a" textLength="37.5" lengthAdjust="spacingAndGlyphs">65%</text>
<line x1="1654" y1="352.17" x2="1665" y2="352.17" stroke="#8a8a8a" stroke-width="2"/>
<text x="1672" y="359.97" font-size="23.5" fill="#1e2b3a" textLength="37.5" lengthAdjust="spacingAndGlyphs">60%</text>
<line x1="1654" y1="398.83" x2="1665" y2="398.83" stroke="#8a8a8a" stroke-width="2"/>
<text x="1672" y="406.63" font-size="23.5" fill="#1e2b3a" textLength="37.5" lengthAdjust="spacingAndGlyphs">55%</text>
<line x1="1654" y1="445.50" x2="1665" y2="445.50" stroke="#8a8a8a" stroke-width="2"/>
<text x="1672" y="453.30" font-size="23.5" fill="#1e2b3a" textLength="37.5" lengthAdjust="spacingAndGlyphs">50%</text>
<line x1="1654" y1="492.17" x2="1665" y2="492.17" stroke="#8a8a8a" stroke-width="2"/>
<text x="1672" y="499.97" font-size="23.5" fill="#1e2b3a" textLength="37.5" lengthAdjust="spacingAndGlyphs">45%</text>
<line x1="1654" y1="538.83" x2="1665" y2="538.83" stroke="#8a8a8a" stroke-width="2"/>
<text x="1672" y="546.63" font-size="23.5" fill="#1e2b3a" textLength="37.5" lengthAdjust="spacingAndGlyphs">40%</text>
<line x1="1654" y1="585.50" x2="1665" y2="585.50" stroke="#8a8a8a" stroke-width="2"/>
<text x="1672" y="593.30" font-size="23.5" fill="#1e2b3a" textLength="37.5" lengthAdjust="spacingAndGlyphs">35%</text>
<line x1="1654" y1="632.17" x2="1665" y2="632.17" stroke="#8a8a8a" stroke-width="2"/>
<text x="1672" y="639.97" font-size="23.5" fill="#1e2b3a" textLength="37.5" lengthAdjust="spacingAndGlyphs">30%</text>
<line x1="1654" y1="678.83" x2="1665" y2="678.83" stroke="#8a8a8a" stroke-width="2"/>
<text x="1672" y="686.63" font-size="23.5" fill="#1e2b3a" textLength="37.5" lengthAdjust="spacingAndGlyphs">25%</text>
<line x1="1654" y1="725.50" x2="1665" y2="725.50" stroke="#8a8a8a" stroke-width="2"/>
<text x="1672" y="733.30" font-size="23.5" fill="#1e2b3a" textLength="37.5" lengthAdjust="spacingAndGlyphs">20%</text>
<text x="162.5" y="784" font-size="23.5" font-weight="bold" fill="#111" textLength="222" lengthAdjust="spacingAndGlyphs">Percentage of Traders</text>
<rect x="442" y="766" width="19.8" height="19.8" fill="#e8f4fc" stroke="#1b9ae2" stroke-width="4"/>
<text x="472" y="784" font-size="23.5" fill="#141414" textLength="79" lengthAdjust="spacingAndGlyphs">net long</text>
<rect x="672" y="766" width="19.8" height="19.8" fill="#f2e3e5" stroke="#d0021b" stroke-width="4"/>
<text x="702" y="784" font-size="23.5" fill="#141414" textLength="87" lengthAdjust="spacingAndGlyphs">net short</text>
<text x="902.4" y="784" font-size="23.5" font-weight="bold" fill="#111" textLength="184" lengthAdjust="spacingAndGlyphs">Number of Traders</text>
<line x1="1141.8" y1="775.7" x2="1161.8" y2="775.7" stroke="#1b9ae2" stroke-width="3.5"/>
<text x="1172" y="784" font-size="23.5" fill="#141414" textLength="79" lengthAdjust="spacingAndGlyphs">net long</text>
<line x1="1372" y1="775.7" x2="1392" y2="775.7" stroke="#d0021b" stroke-width="3.5"/>
<text x="1403" y="784" font-size="23.5" fill="#141414" textLength="86" lengthAdjust="spacingAndGlyphs">net short</text>
<line x1="145.5" y1="823.90" x2="1645.3" y2="823.90" stroke="#b3b3b3" stroke-width="2" stroke-dasharray="3.5 4.5"/>
<line x1="145.5" y1="857.80" x2="1645.3" y2="857.80" stroke="#b3b3b3" stroke-width="2" stroke-dasharray="3.5 4.5"/>
<line x1="145.5" y1="891.70" x2="1645.3" y2="891.70" stroke="#b3b3b3" stroke-width="2" stroke-dasharray="3.5 4.5"/>
<line x1="145.5" y1="925.60" x2="1645.3" y2="925.60" stroke="#b3b3b3" stroke-width="2" stroke-dasharray="3.5 4.5"/>
<line x1="145.5" y1="959.50" x2="1645.3" y2="959.50" stroke="#b3b3b3" stroke-width="2" stroke-dasharray="3.5 4.5"/>
<line x1="388.29" y1="806.9" x2="388.29" y2="977.0" stroke="#b0b0b0" stroke-width="2" stroke-dasharray="3.5 4.5"/>
<line x1="648.04" y1="806.9" x2="648.04" y2="977.0" stroke="#b0b0b0" stroke-width="2" stroke-dasharray="3.5 4.5"/>
<line x1="891.03" y1="806.9" x2="891.03" y2="977.0" stroke="#b0b0b0" stroke-width="2" stroke-dasharray="3.5 4.5"/>
<line x1="1150.78" y1="806.9" x2="1150.78" y2="977.0" stroke="#b0b0b0" stroke-width="2" stroke-dasharray="3.5 4.5"/>
<line x1="1402.15" y1="806.9" x2="1402.15" y2="977.0" stroke="#b0b0b0" stroke-width="2" stroke-dasharray="3.5 4.5"/>
<line x1="144.2" y1="806.9" x2="1645.3" y2="806.9" stroke="#8e8e8e" stroke-width="2" stroke-dasharray="4.2 3.8"/>
<line x1="145.5" y1="977.0" x2="145.5" y2="806.9" stroke="#8e8e8e" stroke-width="2" stroke-dasharray="3.5 4.5"/>
<line x1="144.2" y1="977.0" x2="1645.3" y2="977.0" stroke="#b4b4b4" stroke-width="2" stroke-dasharray="4.2 3.8"/>
<line x1="1645.8" y1="977.0" x2="1645.8" y2="806.9" stroke="#b4b4b4" stroke-width="2" stroke-dasharray="3.5 4.5"/>
<g clip-path="url(#bc)" fill="none" stroke-width="3" stroke-linejoin="miter">
<polyline points="144.70,881.70 153.08,882.50 161.46,884.00 169.84,883.30 178.22,891.00 186.59,894.10 194.97,907.90 203.35,907.90 211.73,906.10 220.11,886.40 228.49,900.20 236.87,891.70 245.25,866.30 253.63,850.90 262.01,850.90 270.38,845.50 278.76,830.80 287.14,821.90 295.52,838.60 303.90,823.10 312.28,835.80 320.66,835.80 329.04,834.70 337.42,833.60 345.80,820.00 354.17,815.40 362.55,811.10 370.93,834.20 379.31,834.20 387.69,832.10 396.07,830.50 404.45,836.70 412.83,855.80 421.21,854.30 429.59,876.80 437.96,876.80 446.34,875.30 454.72,854.00 463.10,865.50 471.48,850.10 479.86,877.10 488.24,887.10 496.62,887.10 505.00,885.10 513.38,877.40 521.75,897.50 530.13,908.70 538.51,895.90 546.89,895.60 555.27,895.60 563.65,894.40 572.03,887.60 580.41,874.80 588.79,902.50 597.17,886.00 605.54,878.30 613.92,878.30 622.30,875.90 630.68,869.10 639.06,869.10 647.44,894.80 655.82,866.00 664.20,907.90 672.58,907.90 680.96,905.60 689.34,912.60 697.71,894.80 706.09,877.90 714.47,867.10 722.85,887.10 731.23,887.10 739.61,884.50 747.99,869.40 756.37,926.10 764.75,898.70 773.12,879.00 781.50,877.90 789.88,877.90 798.26,874.80 806.64,865.10 815.02,869.40 823.40,864.00 831.78,881.00 840.16,906.40 848.54,906.40 856.91,903.30 865.29,889.10 873.67,901.80 882.05,923.40 890.43,922.60 898.81,914.10 907.19,914.10 915.57,911.00 923.95,911.00 932.33,916.40 940.70,874.80 949.08,853.20 957.46,891.00 965.84,891.00 974.22,887.10 982.60,853.20 990.98,868.60 999.36,844.70 1007.74,904.90 1016.12,923.40 1024.49,923.40 1032.87,921.00 1041.25,906.10 1049.63,913.30 1058.01,888.70 1066.39,901.00 1074.77,943.10 1083.15,943.10 1091.53,943.10 1099.91,929.50 1108.28,919.50 1116.66,921.80 1125.04,901.00 1133.42,904.10 1141.80,903.00 1150.18,903.00 1158.56,922.60 1166.94,911.80 1175.32,894.10 1183.70,911.00 1192.08,932.60 1200.45,928.00 1208.83,927.70 1217.21,910.30 1225.59,898.70 1233.97,952.70 1242.35,942.60 1250.73,968.10 1259.11,966.80 1267.49,966.80 1275.87,960.40 1284.24,950.30 1292.62,939.60 1301.00,939.60 1309.38,941.90 1317.76,941.90 1326.14,938.00 1334.52,918.70 1342.90,891.30 1351.28,915.70 1359.65,908.50 1368.03,921.80 1376.41,921.80 1384.79,921.00 1393.17,936.00 1401.55,935.70 1409.93,892.20 1418.31,892.20 1426.69,908.20 1435.07,908.20 1443.44,875.30 1451.82,875.30 1460.20,938.00 1468.58,938.00 1476.96,899.50 1485.34,895.30 1493.72,894.80 1502.10,879.00 1510.48,878.60 1518.86,870.90 1527.23,866.00 1535.61,865.50 1543.99,867.80 1552.37,867.80 1560.75,865.10 1569.13,851.20 1577.51,862.70 1585.89,892.00 1594.27,933.60 1602.65,883.30 1611.02,880.80 1619.40,880.80 1627.78,859.70 1636.16,860.00 1644.54,918.70" stroke="#1b9ae2"/>
<polyline points="144.70,926.40 153.08,923.40 161.46,882.50 169.84,878.60 178.22,878.60 186.59,871.20 194.97,893.80 203.35,893.80 211.73,891.70 220.11,884.00 228.49,874.80 236.87,918.70 245.25,942.60 253.63,958.50 262.01,958.50 270.38,958.10 278.76,948.00 287.14,942.60 295.52,946.50 303.90,950.30 312.28,964.70 320.66,964.70 329.04,964.20 337.42,963.80 345.80,961.60 354.17,952.40 362.55,957.00 370.93,955.70 379.31,955.70 387.69,955.00 396.07,954.00 404.45,938.80 412.83,927.20 421.21,919.00 429.59,936.90 437.96,936.90 446.34,936.00 454.72,924.60 463.10,909.50 471.48,914.40 479.86,933.40 488.24,925.70 496.62,925.70 505.00,923.40 513.38,906.40 521.75,884.00 530.13,884.50 538.51,882.50 546.89,912.60 555.27,912.30 563.65,911.80 572.03,889.10 580.41,893.30 588.79,879.00 597.17,892.80 605.54,921.00 613.92,921.00 622.30,919.20 630.68,918.00 639.06,900.50 647.44,902.10 655.82,932.30 664.20,909.80 672.58,909.80 680.96,906.10 689.34,860.40 697.71,888.70 706.09,911.30 714.47,912.30 722.85,918.00 731.23,918.00 739.61,920.30 747.99,916.90 756.37,897.10 764.75,886.00 773.12,936.50 781.50,935.70 789.88,935.70 798.26,935.70 806.64,921.80 815.02,900.50 823.40,910.30 831.78,909.50 840.16,910.70 848.54,910.70 856.91,909.20 865.29,901.40 873.67,886.40 882.05,853.20 890.43,865.50 898.81,885.60 907.19,885.60 915.57,883.30 923.95,861.70 932.33,856.70 940.70,918.70 949.08,931.80 957.46,924.10 965.84,924.10 974.22,925.70 982.60,904.10 990.98,896.40 999.36,900.20 1007.74,874.80 1016.12,877.90 1024.49,877.90 1032.87,875.90 1041.25,869.10 1049.63,885.60 1058.01,926.10 1066.39,908.70 1074.77,875.90 1083.15,875.90 1091.53,869.10 1099.91,847.50 1108.28,847.50 1116.66,850.80 1125.04,892.50 1133.42,897.10 1141.80,904.90 1150.18,904.90 1158.56,880.50 1166.94,883.30 1175.32,909.20 1183.70,905.60 1192.08,896.40 1200.45,894.10 1208.83,894.80 1217.21,896.80 1225.59,895.30 1233.97,832.70 1242.35,836.20 1250.73,822.40 1259.11,816.20 1267.49,816.70 1275.87,818.50 1284.24,813.60 1292.62,824.40 1301.00,824.40 1309.38,844.40 1317.76,844.40 1326.14,841.90 1334.52,849.70 1342.90,870.20 1351.28,849.00 1359.65,882.50 1368.03,886.00 1376.41,886.00 1384.79,881.70 1393.17,837.00 1401.55,837.00 1409.93,885.60 1418.31,885.60 1426.69,900.20 1435.07,900.20 1443.44,889.40 1451.82,889.10 1460.20,846.00 1468.58,845.50 1476.96,884.50 1485.34,897.10 1493.72,894.80 1502.10,879.40 1510.48,879.40 1518.86,897.90 1527.23,897.50 1535.61,897.90 1543.99,908.20 1552.37,908.70 1560.75,907.90 1569.13,896.90 1577.51,902.30 1585.89,880.50 1594.27,848.80 1602.65,905.80 1611.02,904.70 1619.40,904.70 1627.78,901.30 1636.16,899.20 1644.54,840.80" stroke="#d0021b"/>
</g>
<line x1="1654" y1="806.6" x2="1654" y2="977.3" stroke="#8a8a8a" stroke-width="2"/>
<line x1="1654" y1="806.90" x2="1665" y2="806.90" stroke="#8a8a8a" stroke-width="2"/>
<line x1="1654" y1="977.00" x2="1665" y2="977.00" stroke="#8a8a8a" stroke-width="2"/>
<line x1="1654" y1="823.90" x2="1665" y2="823.90" stroke="#8a8a8a" stroke-width="2"/>
<text x="1671.2" y="832.10" font-size="23.5" fill="#1e2b3a" textLength="34.8" lengthAdjust="spacingAndGlyphs">600</text>
<line x1="1654" y1="857.80" x2="1665" y2="857.80" stroke="#8a8a8a" stroke-width="2"/>
<text x="1671.2" y="866.00" font-size="23.5" fill="#1e2b3a" textLength="34.8" lengthAdjust="spacingAndGlyphs">500</text>
<line x1="1654" y1="891.70" x2="1665" y2="891.70" stroke="#8a8a8a" stroke-width="2"/>
<text x="1671.2" y="899.90" font-size="23.5" fill="#1e2b3a" textLength="34.8" lengthAdjust="spacingAndGlyphs">400</text>
<line x1="1654" y1="925.60" x2="1665" y2="925.60" stroke="#8a8a8a" stroke-width="2"/>
<text x="1671.2" y="933.80" font-size="23.5" fill="#1e2b3a" textLength="34.8" lengthAdjust="spacingAndGlyphs">300</text>
<line x1="1654" y1="959.50" x2="1665" y2="959.50" stroke="#8a8a8a" stroke-width="2"/>
<text x="1671.2" y="967.70" font-size="23.5" fill="#1e2b3a" textLength="34.8" lengthAdjust="spacingAndGlyphs">200</text>
<line x1="388.29" y1="977.0" x2="388.29" y2="988" stroke="#8a8a8a" stroke-width="2"/>
<text transform="translate(395.69,1115.5) rotate(-90)" x="0" y="0" font-size="23.5" fill="#1e2b3a" textLength="116" lengthAdjust="spacingAndGlyphs">2024-Jan-01</text>
<line x1="648.04" y1="977.0" x2="648.04" y2="988" stroke="#8a8a8a" stroke-width="2"/>
<text transform="translate(655.44,1115.5) rotate(-90)" x="0" y="0" font-size="23.5" fill="#1e2b3a" textLength="116" lengthAdjust="spacingAndGlyphs">2024-Feb-01</text>
<line x1="891.03" y1="977.0" x2="891.03" y2="988" stroke="#8a8a8a" stroke-width="2"/>
<text transform="translate(898.43,1115.5) rotate(-90)" x="0" y="0" font-size="23.5" fill="#1e2b3a" textLength="116" lengthAdjust="spacingAndGlyphs">2024-Mar-01</text>
<line x1="1150.78" y1="977.0" x2="1150.78" y2="988" stroke="#8a8a8a" stroke-width="2"/>
<text transform="translate(1158.18,1115.5) rotate(-90)" x="0" y="0" font-size="23.5" fill="#1e2b3a" textLength="116" lengthAdjust="spacingAndGlyphs">2024-Apr-01</text>
<line x1="1402.15" y1="977.0" x2="1402.15" y2="988" stroke="#8a8a8a" stroke-width="2"/>
<text transform="translate(1409.55,1115.5) rotate(-90)" x="0" y="0" font-size="23.5" fill="#1e2b3a" textLength="116" lengthAdjust="spacingAndGlyphs">2024-May-01</text>
<path d="M1523.3,57 H1536 A13,14.35 0 0 1 1536,85.7 H1523.3 Z M1529.3,62.8 V80 H1535.5 A8,8.6 0 0 0 1535.5,62.8 Z" fill="#4a5568" fill-rule="evenodd"/>
<path d="M1557,85.7 V69 A12,12 0 0 1 1581,69 V85.7 H1575 V79 H1563 V85.7 Z M1563,73 H1575 V69 A6,7.3 0 0 0 1563,69 Z" fill="#4a5568" fill-rule="evenodd"/>
<rect x="1591" y="57" width="7" height="28.7" fill="#4a5568"/><rect x="1593.3" y="51" width="2.6" height="40.7" fill="#4a5568"/>
<path d="M1608,57 H1614.7 V80 H1627 V85.7 H1608 Z" fill="#4a5568"/>
<path d="M1631.3,57 H1637.6 V68 A5.3,5.7 0 0 0 1648.4,68 V57 H1654.7 V68 A8.5,10 0 0 1 1646,78.2 V85.7 H1639.8 V78.2 A8.5,10 0 0 1 1631.3,68 Z" fill="#4a5568"/>
<path d="M1664.7,57 H1690 V64.3 H1672.7 V68 H1690 V76.3 H1672.7 V85.7 H1664.7 Z" fill="#ff7300"/>
<path d="M1695.5,57 H1705.5 L1711.5,64.5 L1717.5,57 H1727.5 L1716.3,70.7 L1728.3,85.7 H1718 L1711.5,77.5 L1705,85.7 H1694.8 L1706.8,70.7 Z" fill="#ff7300"/>
<text x="1590" y="112.4" font-size="18.5" fill="#525e72" textLength="102.5" lengthAdjust="spacingAndGlyphs">provided by</text>
<rect x="1702.9" y="96.2" width="4.2" height="20.6" fill="#e3151b"/>
<path d="M1726.5,100.5 A9.5,10.3 0 1 0 1728.7,107 V105.3 H1718.5 V109.3 H1724.3 A5.6,6 0 1 1 1723.4,102.3 Z" fill="#e3151b"/>
<defs><filter id="sb" x="-5%" y="-5%" width="110%" height="110%"><feGaussianBlur stdDeviation="0.7"/></filter></defs>
<g fill="none" stroke="#8a8a8a" stroke-width="2.2" stroke-linejoin="round" stroke-linecap="round" filter="url(#sb)">
<polyline points="1576.79,1108.25 1575.74,1122.96 1565.76,1122.96"/>
<polyline points="1570.48,1125.06 1570.22,1133.46"/>
<polyline points="1560.50,1141.08 1570.48,1141.60"/>
<polyline points="1571.01,1142.92 1563.92,1158.67 1560.50,1161.04 1553.15,1161.30"/>
<polyline points="1617.75,1110.88 1616.28,1116.92 1589.92,1117.29 1586.76,1118.76 1577.31,1118.76"/>
<polyline points="1603.05,1126.63 1585.71,1126.63 1583.61,1135.56"/>
<polyline points="1596.74,1128.74 1600.68,1135.56"/>
<polyline points="1598.84,1143.44 1581.51,1143.44 1578.62,1153.95"/>
<polyline points="1592.02,1145.02 1595.69,1153.42"/>
<polyline points="1614.60,1120.33 1605.67,1157.10 1602.52,1160.77 1569.96,1161.30"/>
<polyline points="1626.18,1115.61 1664.52,1115.61"/>
<polyline points="1633.53,1117.18 1630.64,1128.74"/>
<polyline points="1621.45,1137.66 1660.32,1137.66"/>
<polyline points="1616.20,1152.37 1655.59,1152.37 1657.17,1145.02"/>
<polyline points="1676.60,1109.30 1665.05,1157.62 1661.89,1162.09 1641.41,1162.35"/>
<polyline points="1689.43,1117.18 1700.99,1117.18"/>
<polyline points="1689.96,1117.71 1682.08,1145.02 1679.45,1148.17 1675.78,1148.69"/>
<polyline points="1699.41,1118.76 1692.06,1144.49 1693.11,1148.17 1701.51,1148.17"/>
<polyline points="1711.49,1109.30 1700.99,1147.64"/>
<polyline points="1685.76,1154.47 1679.45,1160.25 1673.15,1161.30"/>
<polyline points="1698.36,1155.52 1696.79,1160.77 1689.96,1161.30"/>
<polyline points="1709.92,1121.38 1724.62,1121.38"/>
<polyline points="1723.57,1124.01 1708.87,1155.52 1705.71,1159.72 1699.41,1160.25"/>
<polyline points="1738.28,1110.35 1738.28,1113.50 1735.13,1120.86 1725.15,1157.62 1722.00,1160.77 1712.02,1160.77"/>
<polyline points="1764.24,1108.78 1750.58,1123.48"/>
<polyline points="1741.66,1132.41 1746.38,1131.62"/>
<polyline points="1765.82,1121.38 1748.48,1140.29"/>
<polyline points="1768.97,1116.13 1783.67,1115.61"/>
<polyline points="1798.38,1108.78 1797.33,1114.55 1786.30,1124.53 1788.92,1127.16"/>
<polyline points="1762.66,1135.56 1772.64,1135.04 1778.42,1131.36 1781.57,1135.04 1791.55,1135.56 1793.13,1129.79"/>
<polyline points="1737.45,1148.69 1755.84,1148.69 1757.94,1141.34"/>
<polyline points="1759.51,1144.49 1768.44,1144.49"/>
<polyline points="1776.32,1152.37 1778.95,1144.49 1789.45,1144.49 1791.03,1138.71"/>
<polyline points="1733.78,1161.30 1753.21,1161.30 1754.79,1153.95"/>
<polyline points="1755.31,1161.30 1784.72,1161.30 1786.30,1154.47"/>
</g>
<g font-style="italic" font-weight="bold">
<text x="1565" y="1195" font-size="29" fill="#7fbde6" stroke="#7fbde6" stroke-width="1.2" textLength="222" lengthAdjust="spacing">zzrt01.cn</text>
</g>
</svg></body></html>
